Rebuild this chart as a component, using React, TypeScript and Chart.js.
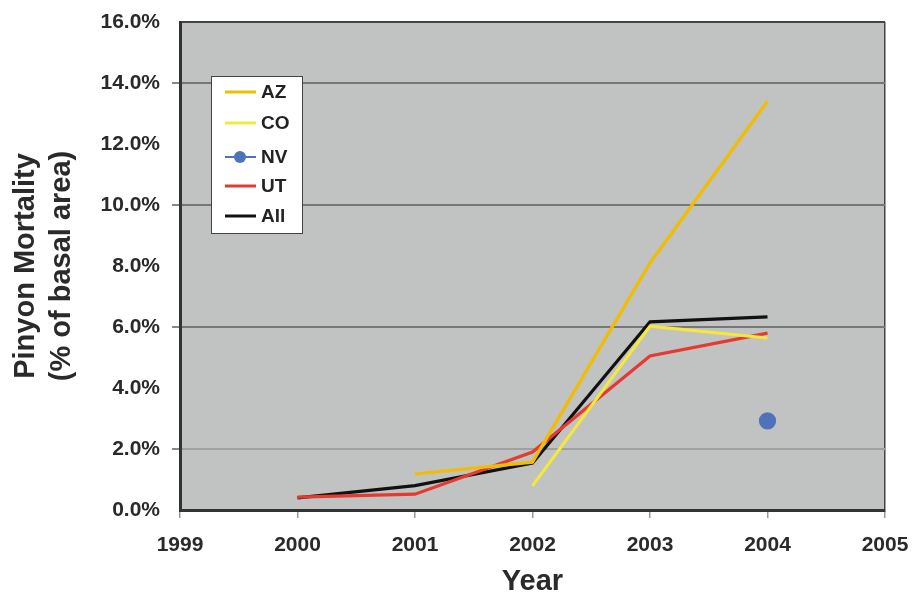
import React, { useEffect, useRef } from "react";
import { Chart, registerables } from "chart.js";

Chart.register(...registerables);

const years = [2000, 2001, 2002, 2003, 2004];
const azValues = [null, 1.18, 1.57, 8.1, 13.4];
const coValues = [null, null, 0.79, 6.03, 5.64];
const nvValues = [null, null, null, null, 2.92];
const utValues = [0.42, 0.52, 1.9, 5.05, 5.8];
const allValues = [0.4, 0.8, 1.54, 6.17, 6.33];
const seriesNames = ["AZ", "CO", "NV", "UT", "All"];
const seriesColors = ["#f2bd00", "#f4e83a", "#4f73b8", "#e43a32", "#111111"];

const toPoints = (vals: (number | null)[]) =>
  years.map((x, i) => ({ x, y: vals[i] })).filter((p) => p.y !== null);

const FONT = "'Liberation Sans', Arial, sans-serif";

export default function App() {
  const ref = useRef<HTMLCanvasElement>(null);
  useEffect(() => {
    const bgPlugin = {
      id: "bg",
      beforeDraw(chart: any) {
        const { ctx, chartArea: a } = chart;
        ctx.save();
        ctx.fillStyle = "#c1c2c2";
        ctx.fillRect(a.left, a.top, a.right - a.left, a.bottom - a.top);
        ctx.restore();
      },
      afterDraw(chart: any) {
        const { ctx } = chart;
        ctx.save();
        const bx = 211, by = 76, bw = 91, bh = 157;
        ctx.fillStyle = "#ffffff";
        ctx.fillRect(bx, by, bw, bh);
        ctx.strokeStyle = "#444";
        ctx.lineWidth = 1;
        ctx.strokeRect(bx + 0.5, by + 0.5, bw, bh);
        const rowsY = [92, 123, 157, 186, 216];
        seriesNames.forEach((name, i) => {
          const y = rowsY[i];
          ctx.strokeStyle = seriesColors[i];
          ctx.lineWidth = i === 2 ? 2 : 3;
          ctx.beginPath();
          ctx.moveTo(225, y);
          ctx.lineTo(256, y);
          ctx.stroke();
          if (i === 2) {
            ctx.fillStyle = seriesColors[i];
            ctx.beginPath();
            ctx.arc(240, y, 6, 0, Math.PI * 2);
            ctx.fill();
          }
          ctx.fillStyle = "#222";
          ctx.font = `bold 19px ${FONT}`;
          ctx.textBaseline = "middle";
          ctx.textAlign = "left";
          ctx.fillText(name, 261, y + 1);
        });
        ctx.restore();
      },
    };

    const makeDs = (label: string, vals: (number | null)[], idx: number) => ({
      label,
      data: toPoints(vals),
      borderColor: seriesColors[idx],
      backgroundColor: seriesColors[idx],
      borderWidth: 3.2,
      pointRadius: idx === 2 ? 7 : 0,
      pointHoverRadius: idx === 2 ? 7 : 0,
      showLine: idx !== 2,
      tension: 0,
    });

    const chart = new Chart(ref.current!, {
      type: "line",
      data: {
        datasets: [
          makeDs("AZ", azValues, 0),
          makeDs("CO", coValues, 1),
          makeDs("NV", nvValues, 2),
          makeDs("UT", utValues, 3),
          makeDs("All", allValues, 4),
        ],
      },
      options: {
        animation: false,
        responsive: true,
        maintainAspectRatio: false,
        layout: { padding: { top: 22, right: 28, left: 0, bottom: 0 } },
        plugins: { legend: { display: false }, tooltip: { enabled: false } },
        scales: {
          x: {
            type: "linear",
            min: 1999,
            max: 2005,
            afterFit(s: any) {
              s.height = 84;
              s.paddingLeft = 0;
              s.paddingRight = 0;
            },
            ticks: {
              stepSize: 1,
              color: "#2a2a2a",
              font: { family: FONT, size: 21, weight: "bold" },
              padding: 15,
              maxRotation: 0,
              callback: (v: any) => String(v),
            },
            grid: {
              color: (c: any) => (c.tick && c.tick.value === 2005 ? "#444" : "transparent"),
              tickColor: "#999",
              tickLength: 8,
              lineWidth: 1.5,
            },
            border: { color: "#333", width: 3 },
            title: {
              display: true,
              text: "Year",
              color: "#2a2a2a",
              font: { family: FONT, size: 29, weight: "bold", lineHeight: 0.8 },
              padding: { top: 0, bottom: 0 },
            },
          },
          y: {
            min: 0,
            max: 16,
            afterFit(s: any) {
              s.width = 180;
              s.paddingTop = 0;
              s.paddingBottom = 0;
            },
            ticks: {
              stepSize: 2,
              color: "#2a2a2a",
              font: { family: FONT, size: 21, weight: "bold" },
              padding: 12,
              callback: (v: any) => Number(v).toFixed(1) + "%",
            },
            grid: {
              color: (c: any) => {
                const v = c.tick && c.tick.value;
                if (v === 16) return "#444";
                if (v === 2) return "#a0a0a0";
                if (v === 6 || v === 10 || v === 14) return "#777";
                return "transparent";
              },
              tickColor: (c: any) => {
                const v = c.tick && c.tick.value;
                return v === 2 || v === 6 || v === 10 || v === 14 ? "#888" : "transparent";
              },
              tickLength: 8,
              lineWidth: 2,
            },
            border: { color: "#333", width: 3 },
            title: {
              display: true,
              text: ["Pinyon Mortality", "(% of basal area)"],
              color: "#2a2a2a",
              font: { family: FONT, size: 29, weight: "bold", lineHeight: 1.25 },
              padding: { top: 8, bottom: 0 },
            },
          },
        },
      },
      plugins: [bgPlugin],
    } as any);
    return () => chart.destroy();
  }, []);

  return (
    <div style={{ position: "absolute", left: 0, top: 0, width: 913, height: 594, background: "#fff" }}>
      <canvas ref={ref} />
    </div>
  );
}
